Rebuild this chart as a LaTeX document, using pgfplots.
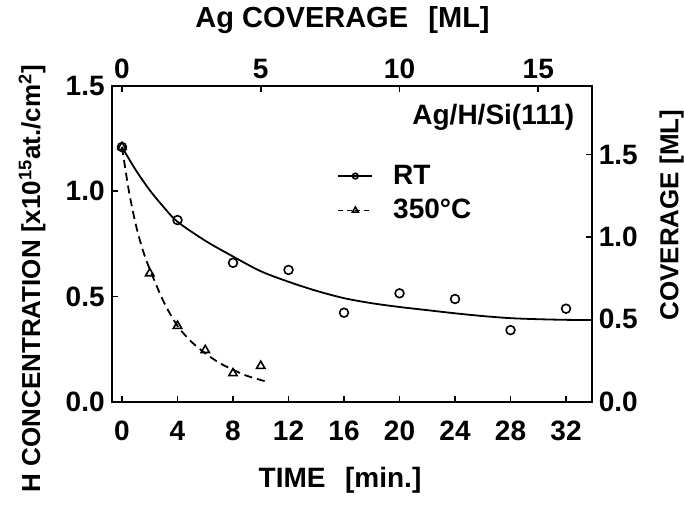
\documentclass[border=0pt]{standalone}
\usepackage{fontspec}
\setmainfont{Liberation Sans}
\usepackage{pgfplots}
\pgfplotsset{compat=1.18}

% RT data points and 350 C data points
\pgfplotstableread{
t H
0 1.21
4 0.863
8 0.66
12 0.626
16 0.423
20 0.515
24 0.488
28 0.34
32 0.442
}\rtdata
\pgfplotstableread{
t H
0 1.21
2 0.61
4 0.36
6 0.245
8 0.135
10 0.17
}\hotdata

\newcommand{\lbl}{\fontsize{14}{16}\selectfont\bfseries}

\begin{document}
\begin{tikzpicture}
\pgfplotsset{
  base/.style={
    scale only axis, width=240pt, height=157.85pt,
    tick align=inside, major tick length=3pt,
    tick style={line width=0.8pt, black},
    axis line style={line width=1pt},
    /pgf/number format/assume math mode=true,
    tick label style={font=\lbl},
    clip=false,
  }
}
\begin{axis}[base, name=main,
  xmin=-0.742, xmax=33.85, ymin=0, ymax=1.5,
  xtick={0,4,...,32}, ytick={0,0.5,1,1.5},
  xtick pos=left, ytick pos=left,
  xticklabel style={yshift=-6pt},
  yticklabel style={/pgf/number format/.cd, fixed, fixed zerofill, precision=1},
  legend style={draw=none, fill=none, inner sep=0pt, at={(axis cs:15.5,0.99)},
    anchor=west, font=\lbl, row sep=2pt, column sep=8pt},
  legend cell align=left,
]
\addlegendimage{black, line width=0.8pt, mark=o, mark size=1.4pt}
\addlegendentry{RT}
\addlegendimage{black, line width=0.8pt, dash pattern=on 2.5pt off 1.8pt, mark=triangle, mark size=1.7pt, mark options={solid}}
\addlegendentry{350°C}
\addplot[forget plot, black, line width=0.9pt, smooth] coordinates {
(0,1.21)(1,1.10)(2,1.005)(3,0.925)(4,0.855)(6,0.765)(8,0.69)(10,0.62)
(12,0.57)(14,0.527)(16,0.492)(18,0.468)(20,0.45)(22,0.435)(24,0.42)
(26,0.407)(28,0.397)(30,0.392)(32,0.389)(33.85,0.388)};
\addplot[forget plot, black, line width=0.9pt, smooth, dash pattern=on 4pt off 2.5pt] coordinates {
(0,1.21)(0.5,1.0)(1,0.84)(1.5,0.72)(2,0.63)(3,0.475)(4,0.36)(5,0.285)
(6,0.23)(7,0.185)(8,0.152)(9,0.123)(10.43,0.095)};
\addplot[forget plot, only marks, mark=o, mark size=2.2pt, mark options={line width=0.8pt}]
  table[x=t, y=H] {\rtdata};
\addplot[forget plot, only marks, mark=triangle, mark size=2.4pt, mark options={line width=0.8pt}]
  table[x=t, y=H] {\hotdata};
\node[anchor=east, font=\lbl] at (axis cs:33.1,1.353) {Ag/H/Si(111)};
\node[font=\lbl] at (rel axis cs:0.4756,-0.248) {TIME\hspace{0.7em}[min.]};
\node[font=\fontsize{14.5}{16}\selectfont\bfseries] at (rel axis cs:0.481,1.21) {Ag COVERAGE\hspace{0.7em}[ML]};
\node[font=\fontsize{13}{16}\selectfont\bfseries, rotate=90] at (rel axis cs:-0.166,0.39) {H CONCENTRATION [x10\textsuperscript{15}at./cm\textsuperscript{2}]};
\node[font=\fontsize{13}{16}\selectfont\bfseries, rotate=90] at (rel axis cs:1.1667,0.591) {COVERAGE [ML]};
\end{axis}
\begin{axis}[base, at={(main.south west)}, anchor=south west,
  xmin=-0.371, xmax=16.925, ymin=0, ymax=1.9157,
  xtick={0,5,10,15}, ytick={0,0.5,1,1.5},
  xtick pos=right, ytick pos=right,
  xticklabel pos=right, yticklabel pos=right,
  yticklabel style={/pgf/number format/.cd, fixed, fixed zerofill, precision=1},
]
\addplot[draw=none] coordinates {(0,0)};
\end{axis}
\pgfresetboundingbox
\path ([shift={(-55.85pt,-51.65pt)}]main.south west) rectangle ([shift={(46.15pt,43pt)}]main.north east);
\end{tikzpicture}
\end{document}
